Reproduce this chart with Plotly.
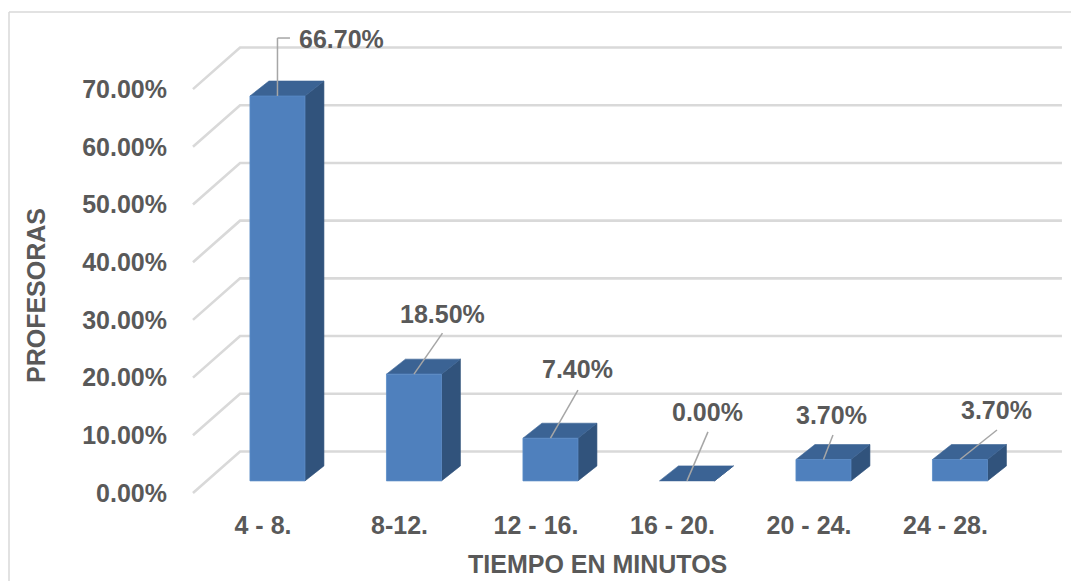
import plotly.graph_objects as go

# ---- data ----
categories = ["4 - 8.", "8-12.", "12 - 16.", "16 - 20.", "20 - 24.", "24 - 28."]
values = [66.7, 18.5, 7.4, 0.0, 3.7, 3.7]
y_ticks = [0, 10, 20, 30, 40, 50, 60, 70]
y_tick_labels = [f"{t:.2f}%" for t in y_ticks]
x_title = "TIEMPO EN MINUTOS"
y_title = "PROFESORAS"

# ---- style (pseudo-3D geometry in data units) ----
BX, BY = 0.106, 2.1        # bar front plane offset from axis plane
W = 0.403                  # bar width
DX, DY = 0.139, 2.6        # bar depth
GX0, GDX, GDY, GXR = -0.513, 0.345, 7.2, 5.853   # gridline geometry
FRONT, TOP, SIDE = "#4f80bd", "#3b6394", "#31537c"
GRID = "#d9d9d9"
TXT = "#595959"
FONT = "Liberation Sans, Arial"
FS = 25

# label leader offsets in pixels (dx, up) relative to bar top anchor
leader_pts = [[(0, 58), (12.5, 58)], [(28.5, 41)], [(27.5, 48)], [(21, 49)], [(9.5, 24.5)], [(37, 29.5)]]
label_off = [(64.5, 57), (28.5, 60), (27.5, 69), (21, 68.5), (8.5, 44.5), (37, 49.5)]

OFF = 8  # page body margin
L, T = 185 - OFF, 20 - OFF
WIDTH, HEIGHT = 1079 - OFF, 581 - OFF
PW = 1068 - 185
PH = 500 - 20
R = WIDTH - L - PW
B = HEIGHT - T - PH
x_range = [-0.5714, -0.5714 + PW / 136.5]
y_range = [(493 - 500) / 5.77, (493 - 20) / 5.77]

fig = go.Figure()

# gridlines (floor + back wall)
for t in y_ticks:
    fig.add_trace(go.Scatter(
        x=[GX0, GX0 + GDX, GXR], y=[t, t + GDY, t + GDY], mode="lines",
        line=dict(color=GRID, width=2.6), hoverinfo="skip", showlegend=False))

# bars
for i, v in enumerate(values):
    xl, xr = i + BX - W / 2, i + BX + W / 2
    b, t = BY, v + BY
    fig.add_trace(go.Scatter(
        x=[xr, xr + DX, xr + DX, xr, xr], y=[b, b + DY, t + DY, t, b],
        fill="toself", fillcolor=SIDE, mode="lines", line=dict(color=SIDE, width=0.6),
        hoverinfo="skip", showlegend=False))
    fig.add_trace(go.Scatter(
        x=[xl, xr, xr + DX, xl + DX, xl], y=[t, t, t + DY, t + DY, t],
        fill="toself", fillcolor=TOP, mode="lines", line=dict(color=TOP, width=0.6),
        hoverinfo="skip", showlegend=False))
    if v > 0:
        fig.add_trace(go.Scatter(
            x=[xl, xr, xr, xl, xl], y=[b, b, t, t, b],
            fill="toself", fillcolor=FRONT, mode="lines", line=dict(color="#5b8bc6", width=0.8),
            hoverinfo="skip", showlegend=False))

shapes = []
annotations = []
for i, v in enumerate(values):
    ax_, ay_ = i + BX, v + BY
    prev = (0, 0)
    for p in leader_pts[i]:
        shapes.append(dict(type="line", xref="x", yref="y", xsizemode="pixel", ysizemode="pixel",
                           xanchor=ax_, yanchor=ay_, x0=prev[0], y0=prev[1], x1=p[0], y1=p[1],
                           line=dict(color="#a6a6a6", width=1.5)))
        prev = p
    annotations.append(dict(x=ax_, y=ay_, xref="x", yref="y", text=f"{v:.2f}%", showarrow=False,
                            xshift=label_off[i][0], yshift=label_off[i][1],
                            xanchor="center", yanchor="middle",
                            font=dict(family=FONT, size=FS, color=TXT, weight="bold")))

# reference-pixel -> paper coordinates
def px2paper_x(px):
    return (px - 185) / PW

def px2paper_y(py):
    return 1 - (py - 20) / PH

# chart border (top and left visible)
shapes.append(dict(type="line", xref="paper", yref="paper", x0=px2paper_x(9), y0=px2paper_y(12),
                   x1=px2paper_x(1100), y1=px2paper_y(12), line=dict(color=GRID, width=1.5)))
shapes.append(dict(type="line", xref="paper", yref="paper", x0=px2paper_x(9), y0=px2paper_y(12),
                   x1=px2paper_x(9), y1=px2paper_y(600), line=dict(color=GRID, width=1.5)))

annotations.append(dict(text=x_title, xref="paper", yref="paper", x=px2paper_x(597), y=px2paper_y(564),
                        xanchor="center", yanchor="middle", showarrow=False,
                        font=dict(family=FONT, size=FS, color=TXT, weight="bold")))
annotations.append(dict(text=y_title, xref="paper", yref="paper", x=px2paper_x(36), y=px2paper_y(296),
                        xanchor="center", yanchor="middle", showarrow=False, textangle=-90,
                        font=dict(family=FONT, size=FS, color=TXT, weight="bold")))

fig.update_layout(
    width=WIDTH, height=HEIGHT, margin=dict(l=L, r=R, t=T, b=B),
    paper_bgcolor="white", plot_bgcolor="white",
    shapes=shapes, annotations=annotations,
    xaxis=dict(range=x_range, tickvals=list(range(len(categories))), ticktext=categories,
               showgrid=False, zeroline=False, showline=False, ticks="",
               ticklabelstandoff=8,
               tickfont=dict(family=FONT, size=FS, color=TXT, weight="bold")),
    yaxis=dict(range=y_range, tickvals=y_ticks, ticktext=y_tick_labels,
               showgrid=False, zeroline=False, showline=False, ticks="",
               ticklabelstandoff=17,
               tickfont=dict(family=FONT, size=FS, color=TXT, weight="bold")),
)

fig.write_html("out.html")
